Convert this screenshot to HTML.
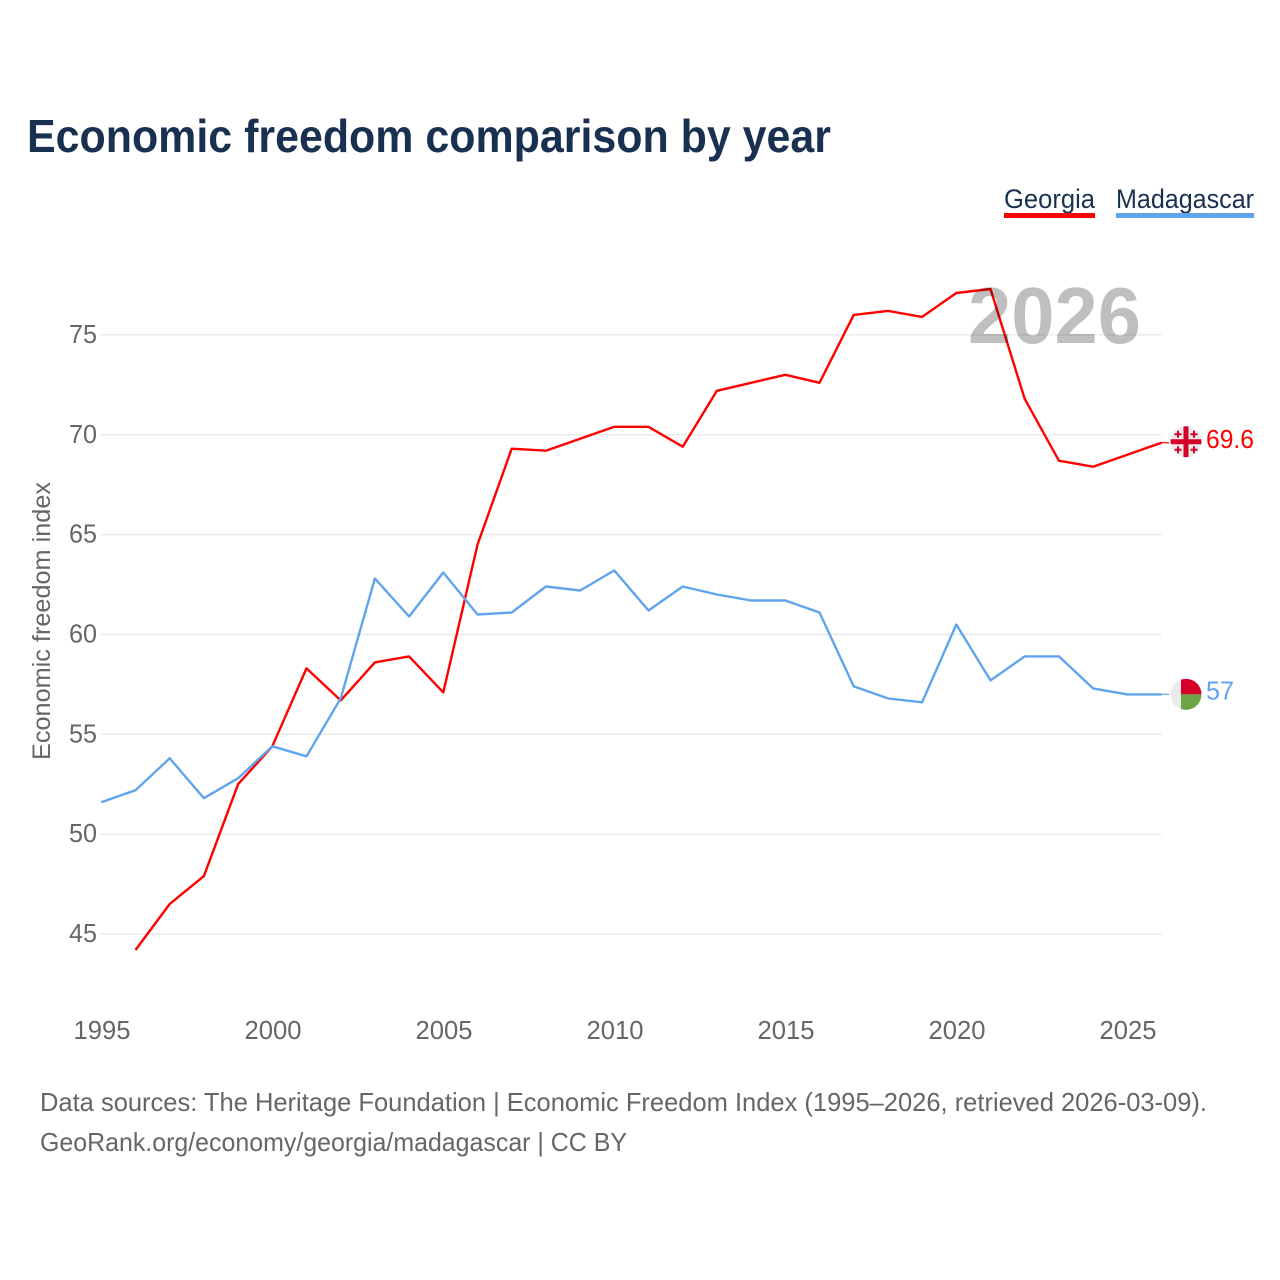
<!DOCTYPE html>
<html lang="en">
<head>
<meta charset="utf-8">
<title>Economic freedom comparison by year</title>
<style>
html,body{margin:0;padding:0;background:#fff;width:1280px;height:1280px;overflow:hidden}
svg{display:block}
text{font-family:"Liberation Sans",sans-serif}
</style>
</head>
<body>
<svg id="chart" xmlns="http://www.w3.org/2000/svg" width="1280" height="1280" viewBox="0 0 1280 1280">
  <rect x="0" y="0" width="1280" height="1280" fill="#ffffff"/>
  <text x="27" y="152" font-size="46" font-weight="700" fill="#1a3050" textLength="804" lengthAdjust="spacingAndGlyphs">Economic freedom comparison by year</text>
  <g>
    <text x="1004" y="208" font-size="27" fill="#1a3050" textLength="91" lengthAdjust="spacingAndGlyphs">Georgia</text>
    <rect x="1004" y="213" width="91" height="5" fill="#ff0000"/>
  </g>
  <g>
    <text x="1116" y="208" font-size="27" fill="#1a3050" textLength="138" lengthAdjust="spacingAndGlyphs">Madagascar</text>
    <rect x="1116" y="213" width="138" height="5" fill="#60a5ec"/>
  </g>
  <g id="grid"></g>
  <g id="yticks"></g>
  <g id="xticks"></g>
  <text transform="translate(50,760) rotate(-90)" x="0" y="0" font-size="25" fill="#666666" textLength="278" lengthAdjust="spacingAndGlyphs">Economic freedom index</text>
  <path id="line-georgia" fill="none" stroke="#ff0000" stroke-width="2.4" stroke-linejoin="round"/>
  <path id="line-madagascar" fill="none" stroke="#60a5ec" stroke-width="2.4" stroke-linejoin="round"/>
  <text x="968" y="343" font-size="80" font-weight="700" fill="#000000" fill-opacity="0.25" textLength="173" lengthAdjust="spacingAndGlyphs">2026</text>
  <line id="leader-georgia" x1="1161" x2="1169" stroke="#ff0000" stroke-width="1.2"/>
  <line id="leader-madagascar" x1="1161" x2="1169" stroke="#60a5ec" stroke-width="1.2"/>
  <g id="flag-georgia">
    <clipPath id="clip-ge"><circle cx="0" cy="0" r="15.5"/></clipPath>
    <g clip-path="url(#clip-ge)">
      <rect x="-16" y="-16" width="32" height="32" fill="#ebebeb"/>
      <rect x="-16" y="-2.5" width="32" height="5" fill="#d4002a"/>
      <rect x="-2.5" y="-16" width="5" height="32" fill="#d4002a"/>
      <path fill="#d4002a" d="M-9-11h2v2.5h2.5v2h-2.5v2.5h-2v-2.5h-2.5v-2h2.5z M7-11h2v2.5h2.5v2h-2.5v2.500h-2v-2.500h-2.500v-2h2.500z M-9 4.500h2v2.500h2.500v2h-2.500v2.500h-2v-2.500h-2.500v-2h2.500z M7 4.500h2v2.500h2.500v2h-2.500v2.500h-2v-2.500h-2.500v-2h2.500z"/>
    </g>
  </g>
  <g id="flag-madagascar">
    <clipPath id="clip-mg"><circle cx="0" cy="0" r="15.5"/></clipPath>
    <g clip-path="url(#clip-mg)">
      <rect x="-16" y="-16" width="32" height="32" fill="#ebebeb"/>
      <rect x="-5" y="-16" width="21" height="16" fill="#d4002a"/>
      <rect x="-5" y="0" width="21" height="16" fill="#6da544"/>
    </g>
  </g>
  <text id="value-georgia" x="1206" font-size="26" fill="#ff0000" textLength="48" lengthAdjust="spacingAndGlyphs"></text>
  <text id="value-madagascar" x="1206" font-size="26" fill="#60a5ec" textLength="28" lengthAdjust="spacingAndGlyphs"></text>
  <text x="40" y="1111" font-size="26" fill="#666666" textLength="1167" lengthAdjust="spacingAndGlyphs">Data sources: The Heritage Foundation | Economic Freedom Index (1995–2026, retrieved 2026-03-09).</text>
  <text x="40" y="1151" font-size="26" fill="#666666" textLength="587" lengthAdjust="spacingAndGlyphs">GeoRank.org/economy/georgia/madagascar | CC BY</text>
</svg>
<script>
const georgiaYears = [1996,1997,1998,1999,2000,2001,2002,2003,2004,2005,2006,2007,2008,2009,2010,2011,2012,2013,2014,2015,2016,2017,2018,2019,2020,2021,2022,2023,2024,2025,2026];
const georgiaValues = [44.2,46.5,47.9,52.5,54.4,58.3,56.7,58.6,58.9,57.1,64.5,69.3,69.2,69.8,70.4,70.4,69.4,72.2,72.6,73.0,72.6,76.0,76.2,75.9,77.1,77.3,71.8,68.7,68.4,69.0,69.6];
const madagascarYears = [1995,1996,1997,1998,1999,2000,2001,2002,2003,2004,2005,2006,2007,2008,2009,2010,2011,2012,2013,2014,2015,2016,2017,2018,2019,2020,2021,2022,2023,2024,2025,2026];
const madagascarValues = [51.6,52.2,53.8,51.8,52.8,54.4,53.9,56.8,62.8,60.9,63.1,61.0,61.1,62.4,62.2,63.2,61.2,62.4,62.0,61.7,61.7,61.1,57.4,56.8,56.6,60.5,57.7,58.9,58.9,57.3,57.0,57.0];
const yTickValues = [45,50,55,60,65,70,75];
const xTickValues = [1995,2000,2005,2010,2015,2020,2025];

const SVG_NS = 'http://www.w3.org/2000/svg';
function xScale(year) { return 101.3 + (year - 1995) * 34.2; }
function yScale(value) { return 934 - (value - 45) * 19.97; }
function linePath(years, values) {
  return values.map(function (v, i) {
    return (i ? 'L' : 'M') + xScale(years[i]).toFixed(1) + ' ' + yScale(v).toFixed(1);
  }).join(' ');
}

const grid = document.getElementById('grid');
const yticks = document.getElementById('yticks');
const xticks = document.getElementById('xticks');

yTickValues.forEach(function (tick) {
  const gl = document.createElementNS(SVG_NS, 'line');
  
  
  gl.setAttribute('x1', 101);
  gl.setAttribute('x2', 1161.5);
  gl.setAttribute('y1', yScale(tick));
  gl.setAttribute('y2', yScale(tick));
  gl.setAttribute('stroke', '#e8e8e8');
  gl.setAttribute('stroke-width', '1.3');
  grid.appendChild(gl);

  const label = document.createElementNS(SVG_NS, 'text');
  
  
  label.setAttribute('x', 97);
  label.setAttribute('y', yScale(tick) + 8);
  label.setAttribute('text-anchor', 'end');
  label.setAttribute('font-size', '26');
  label.setAttribute('fill', '#666666');
  label.setAttribute('textLength', '28');
  label.setAttribute('lengthAdjust', 'spacingAndGlyphs');
  label.textContent = tick;
  yticks.appendChild(label);
});

xTickValues.forEach(function (tick) {
  const label = document.createElementNS(SVG_NS, 'text');
  
  
  label.setAttribute('x', xScale(tick) + 0.7);
  label.setAttribute('y', 1039);
  label.setAttribute('text-anchor', 'middle');
  label.setAttribute('font-size', '26');
  label.setAttribute('fill', '#666666');
  label.setAttribute('textLength', '57');
  label.setAttribute('lengthAdjust', 'spacingAndGlyphs');
  label.textContent = tick;
  xticks.appendChild(label);
});

document.getElementById('line-georgia').setAttribute('d', linePath(georgiaYears, georgiaValues));
document.getElementById('line-madagascar').setAttribute('d', linePath(madagascarYears, madagascarValues));

const georgiaLast = georgiaValues[georgiaValues.length - 1];
const madagascarLast = madagascarValues[madagascarValues.length - 1];
const leaderGe = document.getElementById('leader-georgia');
leaderGe.setAttribute('y1', yScale(georgiaLast));
leaderGe.setAttribute('y2', yScale(georgiaLast));
const leaderMg = document.getElementById('leader-madagascar');
leaderMg.setAttribute('y1', yScale(madagascarLast));
leaderMg.setAttribute('y2', yScale(madagascarLast));
document.getElementById('flag-georgia').setAttribute('transform', 'translate(1186,' + (yScale(georgiaLast) - 1) + ')');
document.getElementById('flag-madagascar').setAttribute('transform', 'translate(1186,' + yScale(madagascarLast) + ')');
const valueGe = document.getElementById('value-georgia');
valueGe.setAttribute('y', yScale(georgiaLast) + 5.5);
valueGe.textContent = georgiaLast;
const valueMg = document.getElementById('value-madagascar');
valueMg.setAttribute('y', yScale(madagascarLast) + 5);
valueMg.textContent = madagascarLast;
</script>
</body>
</html>
